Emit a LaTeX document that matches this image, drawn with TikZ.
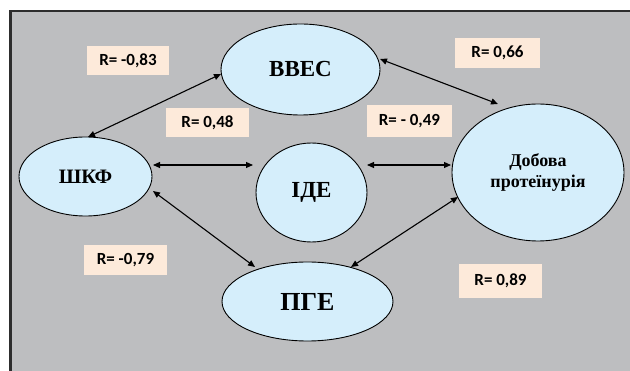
\documentclass[tikz,border=0pt]{standalone}
\usepackage{fontspec}
\setmainfont{Liberation Serif}
\newfontfamily\lblfont{Carlito}
\usetikzlibrary{shapes.geometric,arrows.meta,calc}
\definecolor{bgclr}{RGB}{189,190,192}
\definecolor{ellfill}{RGB}{213,238,251}
\definecolor{lblfill}{RGB}{253,234,218}
\definecolor{frameclr}{RGB}{45,45,45}
\tikzset{
 ell/.style={ellipse,draw=black,line width=0.9pt,fill=ellfill,inner sep=0pt,font=\bfseries},
 lbl/.style={fill=lblfill,inner sep=0pt,font=\lblfont\bfseries\fontsize{17}{20}\selectfont},
 arr/.style={line width=1.1pt,{Triangle[length=7pt,width=6pt]}-{Triangle[length=7pt,width=6pt]}},
}
\begin{document}
\begin{tikzpicture}[x=1pt,y=-1pt]
\useasboundingbox (0,0) rectangle (630,371);
\clip (0,0) rectangle (630,371);
\fill[white] (0,0) rectangle (630,371);
\draw[frameclr,line width=1.7pt,fill=bgclr] (10,11) rectangle (650,400);
\fill[frameclr] (9,10.2) rectangle (11.8,400);
% ellipses
\node[ell,minimum width=159,minimum height=91,font=\bfseries\fontsize{23}{27}\selectfont] (vves) at (300.5,69.5) {ВВЕС};
\node[ell,minimum width=133,minimum height=79,font=\bfseries\fontsize{20.5}{24}\selectfont] (shkf) at (85.5,176.5) {ШКФ};
\node[ell,minimum width=111,minimum height=99,font=\bfseries\fontsize{23}{27}\selectfont] (ide) at (311.5,192.5) {ІДЕ};
\node[ell,minimum width=172,minimum height=137,align=center,font=\bfseries\fontsize{18}{21.5}\selectfont] (dob) at (538,172.5) {Добова\\протеїнурія};
\node[ell,minimum width=171,minimum height=79,font=\bfseries\fontsize{26}{30}\selectfont] (pge) at (307.5,301.5) {ПГЕ};
% labels
\node[lbl,minimum width=82,minimum height=29] (l1) at (128,60.5) {R= -0,83};
\node[lbl,minimum width=85,minimum height=30] (l2) at (497.5,53) {R= 0,66};
\node[lbl,minimum width=83,minimum height=29] (l3) at (207.5,122.5) {R= 0,48};
\node[lbl,minimum width=85,minimum height=32] (l4) at (409.5,121) {R= - 0,49};
\node[lbl,minimum width=83,minimum height=30] (l5) at (125.5,260) {R= -0,79};
\node[lbl,minimum width=83,minimum height=34] (l6) at (500.5,281) {R= 0,89};
% arrows
\draw[arr] ($(vves.center)+(-79.5,4.5)$) -- ($(shkf.center)+(2.5,-39.5)$);
\draw[arr] ($(vves.center)+(79.5,-10.5)$) -- ($(dob.center)+(-40,-68.5)$);
\draw[arr] ($(shkf.center)+(67.5,-11.5)$) -- ($(ide.center)+(-58.5,-27.5)$);
\draw[arr] ($(ide.center)+(55.5,-27.5)$) -- ($(dob.center)+(-87,-7.5)$);
\draw[arr] ($(shkf.center)+(67.5,14.5)$) -- ($(pge.center)+(-52.5,-34.5)$);
\draw[arr] ($(dob.center)+(-80,24.5)$) -- ($(pge.center)+(43.5,-34.5)$);
\end{tikzpicture}
\end{document}
